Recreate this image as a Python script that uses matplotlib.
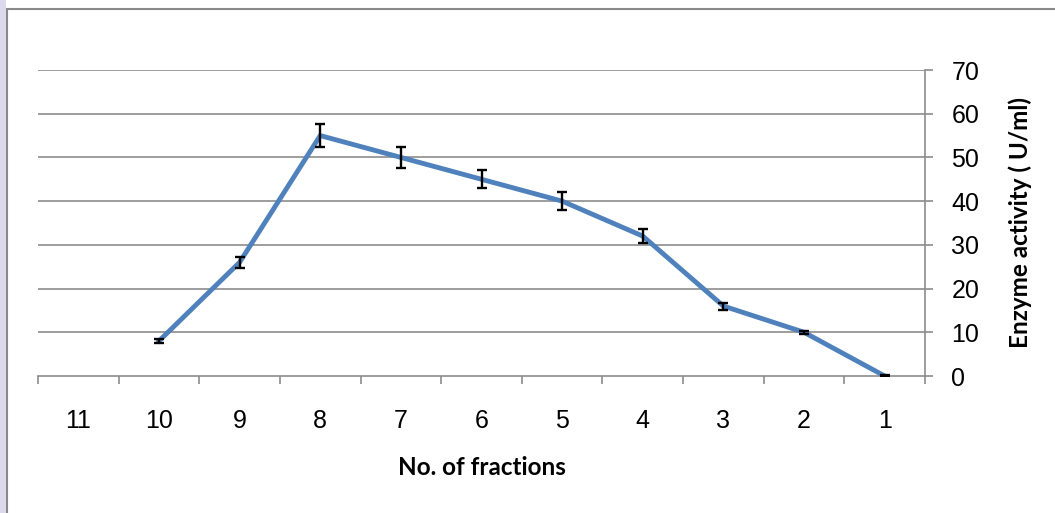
import numpy as np
import matplotlib.pyplot as plt
from matplotlib.patches import Rectangle

# fraction labels shown on the x axis (left to right)
fraction_labels = ["11", "10", "9", "8", "7", "6", "5", "4", "3", "2", "1"]
# measured fractions and their enzyme activity (U/ml) with error
fractions = [10, 9, 8, 7, 6, 5, 4, 3, 2, 1]
activity = [8, 26, 55, 50, 45, 40, 32, 16, 10, 0]
activity_err = [0.5, 1.2, 2.7, 2.4, 2.1, 2.0, 1.6, 0.8, 0.4, 0.2]

grid_col = "#8c8c8c"
line_col = "#4f81bd"
tick_font = dict(fontsize=18, family="Liberation Sans")
label_font = dict(fontsize=17.5, fontweight="bold", family="Lato")

fig = plt.figure(figsize=(10.55, 5.13), dpi=100)
fig.patch.set_facecolor("white")

# outer chart border
fig.patches.append(Rectangle((7 / 1055, -0.05), 1.1, 1 - 9 / 513 + 0.05,
                             transform=fig.transFigure, fill=False,
                             edgecolor="#8a8a8a", linewidth=1.5))
# faint strip along the left edge
fig.patches.append(Rectangle((0, 0), 6 / 1055, 1, transform=fig.transFigure,
                             facecolor="#dcd8ee", edgecolor="none"))

ax = fig.add_axes([38 / 1055, 1 - 376 / 513, (925 - 38) / 1055, (376 - 70) / 513])

pos = [fraction_labels.index(str(f)) for f in fractions]
ax.plot(pos, activity, color=line_col, linewidth=3.5, solid_joinstyle="miter", zorder=3)
ax.errorbar(pos, activity, yerr=activity_err, fmt="none", ecolor="black",
            elinewidth=1.7, capsize=3.6, capthick=1.7, zorder=4)

ax.set_xlim(-0.5, len(fraction_labels) - 0.5)
ax.set_ylim(0, 70)
ax.set_xticks(range(len(fraction_labels)))
ax.set_xticklabels(fraction_labels, **tick_font)
ax.set_xticks(np.arange(-0.5, len(fraction_labels)), minor=True)
ax.tick_params(axis="x", which="major", length=0, pad=24)
ax.tick_params(axis="x", which="minor", length=6, width=1.2, color=grid_col, direction="out")

ax.yaxis.tick_right()
ax.yaxis.set_label_position("right")
ax.set_yticks(range(0, 80, 10))
ax.set_yticklabels([str(v) for v in range(0, 80, 10)], **tick_font)
ax.tick_params(axis="y", length=6, width=1.2, color=grid_col, pad=13)

for v in range(10, 80, 10):
    ax.axhline(v, color=grid_col, linewidth=1.2, zorder=1)

for s in ["left", "top"]:
    ax.spines[s].set_visible(False)
ax.spines["bottom"].set_color(grid_col)
ax.spines["bottom"].set_linewidth(1.2)
ax.spines["right"].set_color(grid_col)
ax.spines["right"].set_linewidth(1.2)

ax.set_xlabel("No. of fractions", labelpad=16, **label_font)
ax.set_ylabel("Enzyme activity ( U/ml)", labelpad=21, **label_font)

plt.savefig("out.png", dpi=100)
